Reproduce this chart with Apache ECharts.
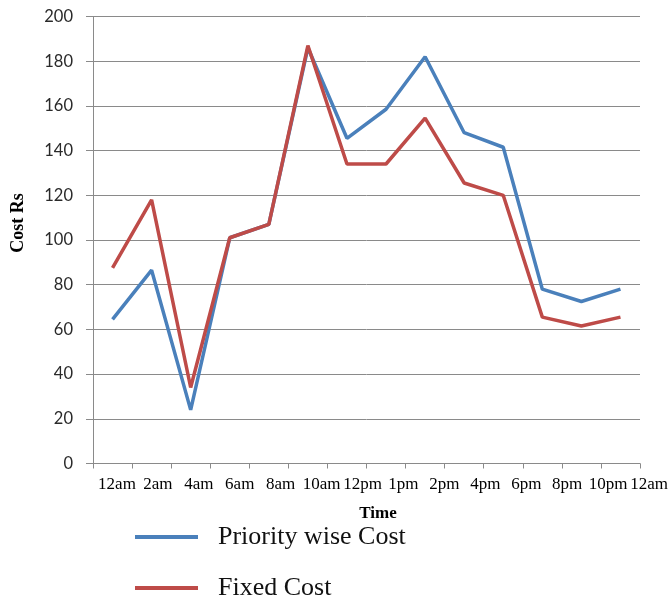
<!DOCTYPE html>
<html>
<head>
<meta charset="utf-8">
<script src="https://cdn.jsdelivr.net/npm/echarts@6/dist/echarts.min.js"></script>
<style>html,body{margin:0;padding:0;background:#fff;}#c{width:671px;height:605px;}</style>
</head>
<body>
<div id="c"></div>
<script>
const categories = ['12am','2am','4am','6am','8am','10am','12pm','1pm','2pm','4pm','6pm','8pm','10pm','12am'];
const priorityWiseCost = [64.5, 86.5, 24, 101, 107, 186, 145.5, 158.5, 182, 148, 141.5, 78, 72.5, 78];
const fixedCost = [87.5, 118, 34, 101, 107, 187, 134, 134, 154.5, 125.5, 120, 65.5, 61.5, 65.5];
const yTicks = {min: 0, max: 200, interval: 20};

const chart = echarts.init(document.getElementById('c'), null, {renderer: 'canvas'});
const axisGray = '#8a8a8a';
chart.setOption({
  backgroundColor: '#ffffff',
  animation: false,
  grid: [
    {left: 93, right: 31, top: 16.5, bottom: 141.5, outerBoundsMode: 'none', containLabel: false},
    {left: 96.5, width: 573, top: 16.5, bottom: 141.5, outerBoundsMode: 'none', containLabel: false}
  ],
  legend: {
    orient: 'vertical',
    left: 135, top: 524,
    padding: 0,
    itemWidth: 63, itemHeight: 4,
    itemGap: 25,
    icon: 'rect',
    textStyle: {fontFamily: 'Liberation Serif', fontSize: 26, color: '#111', padding: [0,0,0,15], lineHeight: 26},
    data: ['Priority wise Cost', 'Fixed Cost']
  },
  xAxis: [
    {
      type: 'category', gridIndex: 0, data: categories, boundaryGap: true,
      axisLine: {lineStyle: {color: axisGray, width: 1}},
      axisTick: {show: true, length: 5, lineStyle: {color: axisGray}},
      axisLabel: {show: false},
      name: 'Time', nameLocation: 'middle', nameGap: 42,
      nameTextStyle: {fontFamily: 'Liberation Serif', fontWeight: 'bold', fontSize: 17, color: '#000', padding: [0,0,0,23]}
    },
    {
      type: 'category', gridIndex: 1, data: categories, boundaryGap: true,
      axisLine: {show: false}, axisTick: {show: false},
      axisLabel: {interval: 0, margin: 13, fontFamily: 'Liberation Serif', fontSize: 17, color: '#000'}
    }
  ],
  yAxis: [
    {
      type: 'value', gridIndex: 0, min: yTicks.min, max: yTicks.max, interval: yTicks.interval,
      axisLine: {show: true, lineStyle: {color: axisGray, width: 1}},
      axisTick: {show: true, length: 7, lineStyle: {color: axisGray}},
      splitLine: {show: true, lineStyle: {color: axisGray, width: 1}},
      axisLabel: {margin: 20, fontFamily: 'Lato', fontSize: 16.5, color: '#2a2a2a'},
      name: 'Cost Rs', nameLocation: 'middle', nameGap: 66, nameRotate: 90,
      nameTextStyle: {fontFamily: 'Liberation Serif', fontWeight: 'bold', fontSize: 18, color: '#000', padding: [0,0,0,34]}
    },
    {type: 'value', gridIndex: 1, show: false, min: 0, max: 200}
  ],
  series: [
    {
      name: 'Priority wise Cost', type: 'line', xAxisIndex: 0, yAxisIndex: 0,
      data: priorityWiseCost, symbol: 'none',
      lineStyle: {color: '#4a80bb', width: 3.5},
      itemStyle: {color: '#4a80bb'}
    },
    {
      name: 'Fixed Cost', type: 'line', xAxisIndex: 0, yAxisIndex: 0,
      data: fixedCost, symbol: 'none',
      lineStyle: {color: '#be4b48', width: 3.5},
      itemStyle: {color: '#be4b48'}
    }
  ]
});
</script>
</body>
</html>
